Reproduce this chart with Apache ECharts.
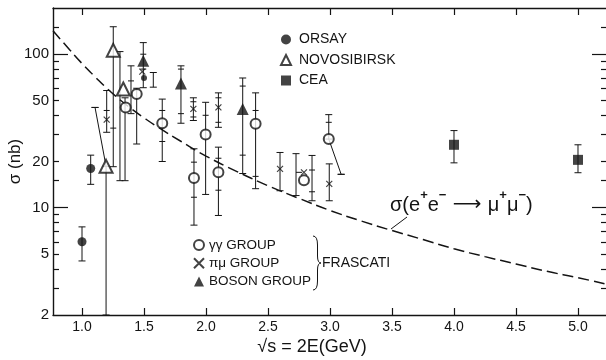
<!DOCTYPE html>
<html>
<head>
<meta charset="utf-8">
<script src="https://cdn.jsdelivr.net/npm/echarts@6/dist/echarts.min.js"></script>
<style>html,body{margin:0;padding:0;background:#fff}#c{width:606px;height:360px}</style>
</head>
<body>
<div id="c"></div>
<script>
// ---- data ----
const xTicks = [1.0, 1.5, 2.0, 2.5, 3.0, 3.5, 4.0, 4.5, 5.0];
const yLabels = [2, 5, 10, 20, 50, 100];
const yMinorTicks = [3, 4, 5, 6, 7, 8, 9, 15, 20, 30, 40, 50, 60, 70, 80, 90, 150];
const yMajorTicks = [10, 100];

const orsay = [[1.0, 6.0], [1.07, 18], [1.5, 70]];
const novosibirsk = [[1.194, 18.6], [1.252, 106], [1.333, 59.3]];
const cea = [[4.0, 25.7], [5.0, 20.5]];
const gammaGamma = [[1.352, 45], [1.441, 55], [1.647, 35.5], [1.903, 15.6], [1.997, 30], [2.10, 17], [2.40, 35.2], [2.79, 15.1], [2.99, 28]];
const piMu = [[1.199, 37.5], [1.486, 77], [1.898, 44], [2.10, 45], [2.597, 17.9], [2.79, 17], [2.994, 14.3]];
const boson = [[1.494, 90.6], [1.798, 64.5], [2.296, 44]];

// error bars: [x, low, high, inner tick 1, inner tick 2]
const errBars = [
  [1.0, 4.5, 7.5], [1.07, 14.2, 22],
  [1.194, 2, 18.6], [1.199, 31, 58, 43],
  [1.252, 18.5, 151, 33], [1.306, 15, 104], [1.347, 15, 52],
  [1.395, 41, 84, 67], [1.441, 26, 60],
  [1.494, 60.5, 119, 80, 100], [1.575, 61, 76],
  [1.647, 20, 51, 27, 43], [1.798, 35.5, 84, 41, 80],
  [1.898, 37, 52, 39, 49], [1.903, 7.7, 24.2, 11.7, 19.8],
  [1.997, 12.2, 48.6, 40], [2.10, 33.4, 56, 36, 52], [2.10, 8.9, 24.8, 13, 21],
  [2.296, 16.7, 70, 22, 62], [2.40, 13.3, 56, 16, 43],
  [2.597, 12.9, 22.9], [2.726, 12, 22.5], [2.855, 11.1, 21.9, 12.7, 17.6],
  [2.994, 11.1, 19.3], [2.99, 28, 40.4, 36], [3.09, 16.5, 16.5], [1.105, 45, 45],
  [4.0, 19.6, 31.8], [5.0, 16.9, 25.7]
];
// thin connecting / slanted segments
const segments = [
  [[1.105, 45], [1.194, 18.6]],
  [[2.99, 28], [3.09, 16.5]],
  [[2.726, 17], [2.775, 17]]
];
// dashed curve sigma(e+e- -> mu+mu-)
const curveX = [0.766, 0.9, 1.0, 1.1, 1.2, 1.3, 1.4, 1.5, 1.6, 1.8, 2.0, 2.25, 2.5, 2.75, 3.0, 3.25, 3.5, 3.75, 4.0, 4.25, 4.5, 4.75, 5.0, 5.234];
const curveY = [142, 107, 87, 72, 60, 51, 44, 38.5, 34, 27, 21.7, 17.2, 13.9, 11.5, 9.6, 8.2, 7.1, 6.2, 5.4, 4.8, 4.3, 3.85, 3.5, 3.17];

// ---- chart ----
const INK = '#141414';
const FONT = '"Liberation Sans", Arial, sans-serif';
const chart = echarts.init(document.getElementById('c'), null, {renderer: 'canvas'});

function yAxisDef(pos, ticks, len, withLabels, withLine) {
  return {
    type: 'log', logBase: 10, min: 2, max: 200, position: pos,
    axisLine: {show: withLine, lineStyle: {color: INK, width: 1.4}},
    axisTick: {show: true, inside: true, length: len, customValues: ticks, lineStyle: {color: INK, width: 1.2}},
    axisLabel: withLabels ? {show: true, customValues: yLabels, margin: 4, fontSize: 15, color: INK, fontFamily: FONT, formatter: v => String(v)} : {show: false},
    splitLine: {show: false}, minorTick: {show: false},
    name: withLabels ? 'σ (nb)' : '', nameLocation: 'middle', nameGap: 29, nameMoveOverlap: false,
    nameTextStyle: {fontSize: 17, color: INK, fontFamily: FONT}
  };
}
function xAxisDef(pos, withLabels) {
  return {
    type: 'value', min: 0.766, max: 5.234, position: pos,
    axisLine: {show: true, onZero: false, lineStyle: {color: INK, width: 1.4}},
    axisTick: {show: true, inside: true, length: 7, customValues: xTicks, lineStyle: {color: INK, width: 1.2}},
    axisLabel: withLabels ? {show: true, customValues: xTicks, margin: 5, fontSize: 14, color: INK, fontFamily: FONT, formatter: v => v.toFixed(1)} : {show: false},
    splitLine: {show: false},
    name: withLabels ? '√s = 2E(GeV)' : '', nameLocation: 'middle', nameGap: 23, nameMoveOverlap: false,
    nameTextStyle: {fontSize: 18, color: INK, fontFamily: FONT, padding: [0, 36, 0, 0]}
  };
}

const lineSeries = segments.map(s => ({
  type: 'line', data: s, xAxisIndex: 0, yAxisIndex: 0, symbol: 'none', silent: true,
  lineStyle: {color: INK, width: 1}, z: 3
}));

const option = {
  animation: false,
  backgroundColor: '#fff',
  grid: {left: 53, right: -1, top: 8, bottom: 45, containLabel: false, outerBoundsMode: 'none'},
  xAxis: [xAxisDef('bottom', true), xAxisDef('top', false)],
  yAxis: [
    yAxisDef('left', yMinorTicks, 6, true, true),
    yAxisDef('left', yMajorTicks, 15, false, false),
    yAxisDef('right', yMinorTicks, 6, false, true),
    yAxisDef('right', yMajorTicks, 15, false, false)
  ],
  legend: [
    {data: ['ORSAY', 'NOVOSIBIRSK', 'CEA'], orient: 'vertical', left: 280, top: 32.5, padding: 0,
     itemWidth: 10, itemHeight: 10, itemGap: 6.5, selectedMode: false,
     textStyle: {fontSize: 14, color: INK, fontFamily: FONT, padding: [0, 0, 0, 3]}},
    {data: ['γγ GROUP', 'πμ GROUP', 'BOSON GROUP'], orient: 'vertical', left: 193, top: 238, padding: 0,
     itemWidth: 10, itemHeight: 10, itemGap: 4.3, selectedMode: false,
     textStyle: {fontSize: 13.5, color: INK, fontFamily: FONT}}
  ],
  series: [
    {type: 'line', name: 'curve', data: curveX.map((x, i) => [x, curveY[i]]), smooth: true, symbol: 'none',
     lineStyle: {color: INK, width: 1.5, type: [11, 5]}, z: 2, silent: true},
    {type: 'custom', name: 'errors', data: errBars.map(b => [b[0], b[1], b[2]]), z: 3, silent: true,
     renderItem: function (params, api) {
       const b = errBars[params.dataIndex];
       const pLo = api.coord([b[0], b[1]]);
       const pHi = api.coord([b[0], b[2]]);
       const st = {stroke: INK, lineWidth: 1};
       const ch = [
         {type: 'line', shape: {x1: pLo[0], y1: pLo[1], x2: pHi[0], y2: pHi[1]}, style: st},
         {type: 'line', shape: {x1: pLo[0] - 3.5, y1: pLo[1], x2: pLo[0] + 3.5, y2: pLo[1]}, style: st},
         {type: 'line', shape: {x1: pHi[0] - 3.5, y1: pHi[1], x2: pHi[0] + 3.5, y2: pHi[1]}, style: st}
       ];
       for (let k = 3; k < b.length; k++) {
         const p = api.coord([b[0], b[k]]);
         ch.push({type: 'line', shape: {x1: p[0] - 3, y1: p[1], x2: p[0] + 3, y2: p[1]}, style: st});
       }
       return {type: 'group', children: ch};
     }},
    ...lineSeries,
    {type: 'scatter', name: 'ORSAY', data: orsay, symbol: 'circle', symbolSize: (v, p) => p.dataIndex === 2 ? 6 : 9,
     itemStyle: {color: INK}, z: 5},
    {type: 'scatter', name: 'NOVOSIBIRSK', data: novosibirsk, symbol: 'emptyTriangle', symbolSize: 13,
     itemStyle: {color: INK, borderColor: INK, borderWidth: 1.3}, z: 5},
    {type: 'scatter', name: 'CEA', data: cea, symbol: 'rect', symbolSize: 10, itemStyle: {color: INK}, z: 5},
    {type: 'scatter', name: 'γγ GROUP', data: gammaGamma, symbol: 'emptyCircle', symbolSize: 10,
     itemStyle: {color: INK, borderColor: INK, borderWidth: 1.3}, z: 5},
    {type: 'scatter', name: 'πμ GROUP', data: piMu, symbol: 'path://M0,0L10,10M10,0L0,10', symbolSize: 6,
     itemStyle: {color: 'rgba(0,0,0,0)', borderColor: INK, borderWidth: 1.2}, z: 5},
    {type: 'scatter', name: 'BOSON GROUP', data: boson, symbol: 'triangle', symbolSize: 12,
     itemStyle: {color: INK}, z: 5}
  ],
  graphic: [
    {type: 'bezierCurve', shape: {x1: 313, y1: 236, cpx1: 317.5, cpy1: 236, x2: 317.5, y2: 245}, style: {stroke: INK, lineWidth: 1, fill: null}},
    {type: 'line', shape: {x1: 317.5, y1: 245, x2: 317.5, y2: 256}, style: {stroke: INK, lineWidth: 1}},
    {type: 'bezierCurve', shape: {x1: 317.5, y1: 256, cpx1: 317.5, cpy1: 263, x2: 321, y2: 263}, style: {stroke: INK, lineWidth: 1, fill: null}},
    {type: 'bezierCurve', shape: {x1: 321, y1: 263, cpx1: 317.5, cpy1: 263, x2: 317.5, y2: 270}, style: {stroke: INK, lineWidth: 1, fill: null}},
    {type: 'line', shape: {x1: 317.5, y1: 270, x2: 317.5, y2: 281}, style: {stroke: INK, lineWidth: 1}},
    {type: 'bezierCurve', shape: {x1: 317.5, y1: 281, cpx1: 317.5, cpy1: 290, x2: 313, y2: 290}, style: {stroke: INK, lineWidth: 1, fill: null}},
    {type: 'text', left: 322, top: 256, style: {text: 'FRASCATI', fontSize: 14, fill: INK, fontFamily: FONT}},
    {type: 'line', shape: {x1: 391, y1: 229, x2: 407, y2: 217}, style: {stroke: INK, lineWidth: 1}},
    {type: 'text', left: 390, top: 189, style: {
      text: '{n|σ(e}{s|+}{n|e}{s|−}{a| ⟶ }{n|μ}{s|+}{n|μ}{s|−}{n|)}',
      fill: INK, fontFamily: FONT,
      rich: {
        n: {fontSize: 20, fontFamily: FONT, fill: INK, lineHeight: 26, verticalAlign: 'bottom'},
        a: {fontSize: 20, fontFamily: '"DejaVu Sans", sans-serif', fill: INK, lineHeight: 26, verticalAlign: 'bottom'},
        s: {fontSize: 13, fontFamily: FONT, fontWeight: 'bold', fill: INK, lineHeight: 26, verticalAlign: 'top'}
      }
    }}
  ]
};
chart.setOption(option);
</script>
</body>
</html>
